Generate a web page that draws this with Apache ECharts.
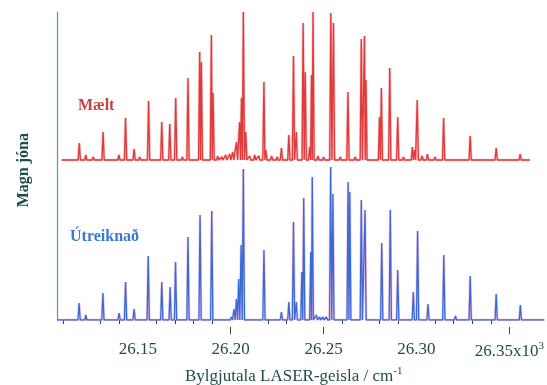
<!DOCTYPE html>
<html>
<head>
<meta charset="utf-8">
<script src="https://cdn.jsdelivr.net/npm/echarts@6/dist/echarts.min.js"></script>
<style>
html,body{margin:0;padding:0;background:#fff;}
#chart{width:547px;height:385px;}
</style>
</head>
<body>
<div id="chart"></div>
<script>
// peak positions (cm-1) and heights above their own baseline
var redPos = [26113, 26118.5, 26122.0, 26126, 26131.3, 26136, 26139.8, 26143.4, 26148.0, 26151, 26155.8, 26159,
	26162.9, 26167.2, 26170.4, 26174, 26177.0, 26183.3, 26184.2, 26187, 26189.6, 26190.5, 26193.0, 26195.2,
	26197.3, 26199.5, 26201.1, 26203.1, 26204.8, 26205.8, 26206.8, 26208.1, 26210.2, 26212.9, 26215.1,
	26217.9, 26218.9, 26222.0, 26225, 26227.3, 26231.3, 26233.8, 26235.3, 26239.0, 26240.1, 26242.5,
	26243.5, 26244.3, 26247, 26250, 26253.9, 26255.3, 26259, 26263.1, 26267, 26270.3, 26272.0, 26272.8,
	26277, 26280.1, 26281.1, 26285.6, 26289.9, 26293, 26297.8, 26298.9, 26300.4, 26303, 26305.9, 26310,
	26314.6, 26320, 26328.9, 26335, 26342.9, 26350, 26355.8];
var redHeight = [2, 17, 5, 3, 28, 2, 5, 42, 11, 3, 59, 2,
	38, 36, 62, 3, 82, 108, 98, 2, 125, 67, 4, 3,
	5, 6, 8, 18, 38, 62, 148, 28, 4, 5, 4,
	78, 10, 4, 3, 12, 25, 104, 28, 137, 88, 13,
	85, 148, 4, 3, 147, 137, 3, 68, 3, 121, 124, 80,
	2, 43, 72, 92, 43, 3, 13, 10, 60, 4, 6, 3,
	42, 2, 24, 2, 12, 2, 6];

var bluePos = [26118.4, 26122.0, 26131.2, 26139.9, 26143.4, 26148.0, 26155.6, 26162.9, 26167.4, 26170.3,
	26177.0, 26183.5, 26189.8, 26200.4, 26201.8, 26203.1, 26204.3, 26205.6, 26206.8, 26217.9, 26227.3,
	26231.3, 26233.8, 26235.3, 26238.3, 26239.3, 26243.1, 26243.9, 26246.1, 26247.8, 26249.6, 26251.5,
	26253.8, 26255.0, 26263.2, 26264.1, 26270.3, 26272.3, 26281.3, 26285.9, 26289.9, 26298.3, 26300.6,
	26306.2, 26314.7, 26321.0, 26328.9, 26342.9, 26355.9];
var blueHeight = [17, 5, 27, 7, 38, 11, 64, 38, 33, 58,
	83, 105, 109, 3, 11, 21, 41, 75, 151, 70, 8,
	18, 98, 18, 48, 122, 68, 143, 5, 3, 3, 3,
	153, 126, 138, 128, 120, 110, 77, 110, 50, 28, 89,
	16, 65, 4, 44, 26, 15];

var redRange = [26109, 26361];
var blueRange = [26106.5, 26368.8];
var measuredOffset = 160;

var labelValues = [26150, 26200, 26250, 26300, 26350];
var majorTicks = [26200, 26250, 26350];
var minorTicks = [26110, 26130, 26140, 26160, 26170, 26180, 26190, 26220, 26230,
	26260, 26280, 26290, 26310, 26320, 26330, 26340];

var xMin = 26106.5, xMax = 26368.8;
var halfWidth = 0.6;

// narrow triangle per peak, feet clipped halfway to neighbours so x never runs backwards
function buildTrace(pos, height, range, offset) {
	var pts = [[range[0], offset]];
	for (var i = 0; i < pos.length; i++) {
		var l = pos[i] - halfWidth, r = pos[i] + halfWidth;
		if (i > 0) l = Math.max(l, (pos[i - 1] + pos[i]) / 2);
		if (i < pos.length - 1) r = Math.min(r, (pos[i] + pos[i + 1]) / 2);
		if (pts[pts.length - 1][0] < l) pts.push([l, offset]);
		pts.push([pos[i], offset + height[i]]);
		pts.push([r, offset]);
	}
	pts.push([range[1], offset]);
	return pts;
}

var redData = buildTrace(redPos, redHeight, redRange, measuredOffset);
var blueData = buildTrace(bluePos, blueHeight, blueRange, 0);

var axisColor = '#1f4d4d';
var serif = 'Liberation Serif';

var myChart = echarts.init(document.getElementById('chart'));
var option = {
	animation: false,
	grid: { left: 57, right: 2, top: 12, bottom: 65 },
	xAxis: [
		{
			type: 'value', min: xMin, max: xMax, position: 'bottom', offset: 7,
			axisLine: { show: false },
			splitLine: { show: false },
			axisTick: { show: true, length: 4, customValues: minorTicks, lineStyle: { color: axisColor, width: 1 } },
			axisLabel: { show: false }
		},
		{
			type: 'value', min: xMin, max: xMax, position: 'bottom', offset: 7,
			axisLine: { show: false },
			splitLine: { show: false },
			axisTick: { show: true, length: 7, customValues: majorTicks, lineStyle: { color: axisColor, width: 1 } },
			axisLabel: {
				show: true, margin: 14, customValues: labelValues,
				color: axisColor, fontFamily: serif, fontSize: 17,
				formatter: function (v) {
					var s = (v / 1000).toFixed(2);
					if (v === 26350) return '{a|' + s + 'x10}{s|3}';
					return '{a|' + s + '}';
				},
				rich: {
					a: { color: axisColor, fontFamily: serif, fontSize: 17 },
					s: { color: axisColor, fontFamily: serif, fontSize: 11, padding: [0, 0, 10, 0] }
				}
			}
		}
	],
	yAxis: {
		type: 'value', min: 0, max: 308,
		axisLine: { show: true, lineStyle: { color: '#4a9ea4', width: 1.2 } },
		axisTick: { show: false },
		axisLabel: { show: false },
		splitLine: { show: false }
	},
	series: [
		{ name: 'Mælt halo', type: 'line', data: redData, symbol: 'none', silent: true,
			lineStyle: { color: 'rgba(240,140,150,0.55)', width: 2.6 } },
		{ name: 'Mælt', type: 'line', data: redData, symbol: 'none',
			lineStyle: { color: '#e03a3a', width: 1.3 } },
		{ name: 'Útreiknað halo', type: 'line', data: blueData, symbol: 'none', silent: true,
			lineStyle: { color: 'rgba(230,130,190,0.45)', width: 2.6 } },
		{ name: 'Útreiknað', type: 'line', data: blueData, symbol: 'none',
			lineStyle: { color: '#3a6ad8', width: 1.3 } }
	],
	graphic: [
		{ type: 'text', left: 78, top: 98,
			style: { text: 'Mælt', fill: '#cc4040', font: 'bold 16px "Liberation Serif"' } },
		{ type: 'text', left: 70, top: 229,
			style: { text: 'Útreiknað', fill: '#3a78d6', font: 'bold 16px "Liberation Serif"' } },
		{ type: 'text', left: 16, top: 133, rotation: Math.PI / 2,
			style: { text: 'Magn jóna', fill: axisColor, font: 'bold 16px "Liberation Serif"' } },
		{ type: 'text', left: 185, top: 366,
			style: {
				text: '{a|Bylgjutala LASER-geisla / cm}{s|-1}',
				rich: {
					a: { fill: axisColor, fontFamily: serif, fontSize: 17 },
					s: { fill: axisColor, fontFamily: serif, fontSize: 11, padding: [0, 0, 10, 0] }
				}
			} }
	]
};
myChart.setOption(option);
</script>
</body>
</html>
